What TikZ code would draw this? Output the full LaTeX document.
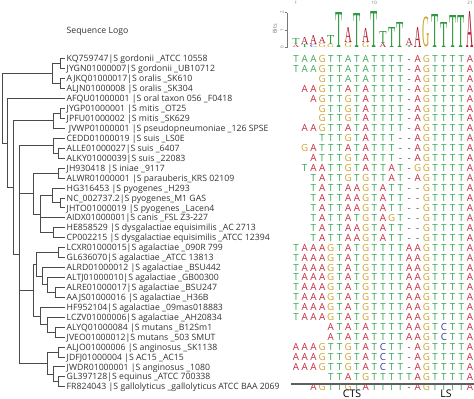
\documentclass[tikz,border=0pt]{standalone}
\usepackage{fontspec}
\setmainfont{Open Sans}
\newfontfamily\logofont{Liberation Serif}
\usepackage{graphicx}
\usetikzlibrary{calc}
\definecolor{alnT}{HTML}{38A856}
\definecolor{alnA}{HTML}{C8283C}
\definecolor{alnG}{HTML}{CDA532}
\definecolor{alnC}{HTML}{323CA0}
\definecolor{alndash}{HTML}{555555}
\definecolor{lgT}{HTML}{2E9A40}
\definecolor{lgA}{HTML}{B22234}
\definecolor{lgG}{HTML}{CFA020}
\definecolor{lgC}{HTML}{2B45A8}
\definecolor{treecol}{HTML}{4A4A4A}
\definecolor{lblcol}{HTML}{333333}
\definecolor{axcol}{HTML}{777777}
\newcounter{colc}
\newcommand\alnrow[2]{\setcounter{colc}{0}\def\currow{#1}\alnparse#2\relax}
\def\alnparse#1{\ifx#1\relax\else\stepcounter{colc}\alnchar#1\expandafter\alnparse\fi}
\newcommand\alnchar[1]{%
 \ifx#1.\else
  \ifx#1-\def\alnc{alndash}\def\alnt{-}\else
   \ifx#1a\def\alnc{alnT}\def\alnt{A}\else
    \def\alnc{aln#1}\def\alnt{#1}\fi\fi
  \node[alnl,text=\alnc] (r\currow c\thecolc) at ({296+(\thecolc-1)*8.7},{62.3+(\currow-1)*9.94}) {\alnt};%
 \fi}
\newcommand\tnode[4]{%
 \path let \p1=($(#3)!.5!(#4)$) in coordinate (#1) at (#2pt,\y1);
 \draw[tree] (#1) |- (#3) (#1) |- (#4);}
\newcommand\lgletter[4]{\node[lgl,text=lg#4] (lg#1#4) at ({296+(#1-1)*8.7},{47.5-#2}) {\resizebox*{7.2pt}{#3pt}{\logofont #4}};}
\tikzset{
 tree/.style={draw=treecol, line width=0.9pt},
 lbl/.style={anchor=base west, inner sep=0pt, text=lblcol, font=\fontsize{8.7}{10}\selectfont},
 alnl/.style={anchor=base, inner sep=0pt, font=\fontsize{9.8}{11}\selectfont},
 lgl/.style={anchor=south, inner sep=0pt},
 axl/.style={inner sep=0pt, text=axcol, font=\fontsize{4.5}{5}\selectfont},
 bot/.style={inner sep=0pt, anchor=base, text=black, font=\fontsize{10.5}{12}\selectfont},
}
\begin{document}
\begin{tikzpicture}[x=1pt,y=-1pt]
\useasboundingbox[fill=white] (0,0) rectangle (474,399);
% title
\node[lbl] (title) at (66.5,33) {Sequence Logo};
% leaf coordinates
\foreach \i in {1,...,34} {\coordinate (l\i) at (65,{58.8+(\i-1)*9.94});}
% labels
\node[lbl] (L1) at (66.5,{61.9+0*9.94}) {KQ759747|S gordonii \_ATCC 10558};
\node[lbl] (L2) at (66.5,{61.9+1*9.94}) {JYGN01000007|S gordonii \_UB10712};
\node[lbl] (L3) at (66.5,{61.9+2*9.94}) {AJKQ01000017|S oralis \_SK610};
\node[lbl] (L4) at (66.5,{61.9+3*9.94}) {ALJN01000008 |S oralis \_SK304};
\node[lbl] (L5) at (66.5,{61.9+4*9.94}) {AFQU01000001 |S oral taxon 056 \_F0418};
\node[lbl] (L6) at (66.5,{61.9+5*9.94}) {JYGP01000001 |S mitis \_OT25};
\node[lbl] (L7) at (66.5,{61.9+6*9.94}) {JPFU01000002 |S mitis \_SK629};
\node[lbl] (L8) at (66.5,{61.9+7*9.94}) {\ JVWP01000001 |S pseudopneumoniae \_126 SPSE};
\node[lbl] (L9) at (66.5,{61.9+8*9.94}) {CEDD01000019 |S suis \_LS0E};
\node[lbl] (L10) at (66.5,{61.9+9*9.94}) {ALLE01000027|S suis \_6407};
\node[lbl] (L11) at (66.5,{61.9+10*9.94}) {ALKY01000039|S suis \_22083};
\node[lbl] (L12) at (66.5,{61.9+11*9.94}) {JH930418 |S iniae \_9117};
\node[lbl] (L13) at (66.5,{61.9+12*9.94}) {ALWR01000001 |S parauberis\_KRS 02109};
\node[lbl] (L14) at (66.5,{61.9+13*9.94}) {HG316453 |S pyogenes \_H293};
\node[lbl] (L15) at (66.5,{61.9+14*9.94}) {NC\_002737.2|S pyogenes\_M1 GAS};
\node[lbl] (L16) at (66.5,{61.9+15*9.94}) {JHTO01000019 |S pyogenes \_Lacen4};
\node[lbl] (L17) at (66.5,{61.9+16*9.94}) {AIDX01000001|S canis \_FSL Z3-227};
\node[lbl] (L18) at (66.5,{61.9+17*9.94}) {HE858529 |S dysgalactiae equisimilis \_AC 2713};
\node[lbl] (L19) at (66.5,{61.9+18*9.94}) {CP002215 |S dysgalactiae equisimilis \_ATCC 12394};
\node[lbl] (L20) at (66.5,{61.9+19*9.94}) {LCXR01000015|S agalactiae \_090R 799};
\node[lbl] (L21) at (66.5,{61.9+20*9.94}) {GL636070|S agalactiae \_ATCC 13813};
\node[lbl] (L22) at (66.5,{61.9+21*9.94}) {ALRD01000012 |S agalactiae \_BSU442};
\node[lbl] (L23) at (66.5,{61.9+22*9.94}) {ALTJ01000010|S agalactiae \_GB00300};
\node[lbl] (L24) at (66.5,{61.9+23*9.94}) {ALRE01000017|S agalactiae \_BSU247};
\node[lbl] (L25) at (66.5,{61.9+24*9.94}) {AAJS01000016 |S agalactiae \_H36B};
\node[lbl] (L26) at (66.5,{61.9+25*9.94}) {HF952104|S agalactiae \_09mas018883};
\node[lbl] (L27) at (66.5,{61.9+26*9.94}) {LCZV01000006|S agalactiae \_AH20834};
\node[lbl] (L28) at (66.5,{61.9+27*9.94}) {ALYQ01000084 |S mutans \_B12Sm1};
\node[lbl] (L29) at (66.5,{61.9+28*9.94}) {JVEO01000012|S mutans \_503 SMUT};
\node[lbl] (L30) at (66.5,{61.9+29*9.94}) {ALJO01000006 |S anginosus \_SK1138};
\node[lbl] (L31) at (66.5,{61.9+30*9.94}) {JDFJ01000004 |S AC15 \_AC15};
\node[lbl] (L32) at (66.5,{61.9+31*9.94}) {JWDR01000001 |S anginosus \_1080};
\node[lbl] (L33) at (66.5,{61.9+32*9.94}) {GL397128|S equinus \_ATCC 700338};
\node[lbl] (L34) at (66.5,{61.9+33*9.94}) {FR824043 |S gallolyticus \_gallolyticus ATCC BAA 2069};
% tree
\tnode{a12}{60}{l1}{l2}
\tnode{a34}{60}{l3}{l4}
\tnode{A}{52}{a12}{a34}
\tnode{b67}{60}{l6}{l7}
\tnode{b678}{53}{b67}{l8}
\tnode{c1011}{58}{l10}{l11}
\tnode{Cs}{53}{l9}{c1011}
\tnode{c1213}{58}{l12}{l13}
\tnode{p1516}{60}{l15}{l16}
\tnode{p14}{52}{l14}{p1516}
\tnode{dys}{53}{l18}{l19}
\tnode{pyd}{40}{p14}{dys}
\draw[tree] (pyd) |- (l17);
\tnode{Cp}{33}{c1213}{pyd}
\tnode{d2021}{58}{l20}{l21}
\tnode{d2425}{55}{l24}{l25}
\tnode{d2325}{47}{l23}{d2425}
\tnode{d2225}{42}{l22}{d2325}
\tnode{d2025}{36}{d2021}{d2225}
\tnode{d2829}{55}{l28}{l29}
\tnode{d2729}{47}{l27}{d2829}
\tnode{d2629}{40}{l26}{d2729}
\tnode{D1}{33}{d2025}{d2629}
\tnode{d3031}{58}{l30}{l31}
\tnode{d3334}{58}{l33}{l34}
\tnode{d3234}{53}{l32}{d3334}
\tnode{D2}{47}{d3031}{d3234}
\tnode{N3}{19}{Cs}{D2}
\draw[tree] (N3) |- (Cp) (N3) |- (D1);
\tnode{N2}{13}{b678}{N3}
\tnode{N1}{7}{l5}{N2}
\tnode{R}{2}{A}{N1}
% alignment
\alnrow{1}{TaaGTTaTaTTTT-AGTTTTA}
\alnrow{2}{TaaGTTaTaTTTT-AGTTTTA}
\alnrow{3}{...GTTaTaTTTT-AGTTTTA}
\alnrow{4}{.AAGTTATATTTT-AGTTTTA}
\alnrow{5}{..AGTTGTATTTT-AGTTTTA}
\alnrow{6}{...GTTGTATTTT-AGTTTTA}
\alnrow{7}{...GTTGTATTTT-AGTTTTA}
\alnrow{8}{.AAGTTATATTTT-AGTTTTA}
\alnrow{9}{...TTTGTATTT--AGTTTTA}
\alnrow{10}{.GATTTATATTT--AGTTTTA}
\alnrow{11}{..ATTTGTATTT--AGTTTTA}
\alnrow{12}{.TAATTGTATTAT-GGTTTTA}
\alnrow{13}{..TATTGTGTTAT-AGTTTTA}
\alnrow{14}{..TATTAAGTATT--GTTTTA}
\alnrow{15}{..TATTAAGTATT--GTTTTA}
\alnrow{16}{..TATTAAGTATT--GTTTTA}
\alnrow{17}{..TATTATGTAGT--GTTTTA}
\alnrow{18}{..TATTAAGTATT--GTTTTA}
\alnrow{19}{..TATTAAGTATT--GTTTTA}
\alnrow{20}{TAAAGTATGTTTTAAGTTTTA}
\alnrow{21}{TAAAGTATGTTTTAAGTTTTA}
\alnrow{22}{TAAAGTATGTTTTAAGTTTTA}
\alnrow{23}{TAAAGTATGTTTTAAGTTTTA}
\alnrow{24}{TAAAGTATGTTTTAAGTTTTA}
\alnrow{25}{TAAAGTATGTTTTAAGTTTTA}
\alnrow{26}{TAAAGTATGTTTTAAGTTTTA}
\alnrow{27}{TAAAGTATGTTTTAAGTTTTA}
\alnrow{28}{....ATATATTTTAAGTCTTA}
\alnrow{29}{....ATATATTTTAAGTCTTA}
\alnrow{30}{AAAGTTGTATCTT-AGTTTTA}
\alnrow{31}{AAAGTTGTATCTT-AGTTTTA}
\alnrow{32}{AAAGTTGTATCTT-AGTTTTA}
\alnrow{33}{....TTATGTTTTTAGTTTTA}
\alnrow{34}{..AGTTGTATTTT-AGTTTTA}
% bottom line and region labels
\coordinate (bl) at (291,384);
\coordinate (br) at (474,384);
\draw[draw=axcol!80!black, line width=1.1pt] (bl) -- (br);
\node[bot] (cts) at (352,397) {CTS};
\node[bot] (ls) at (446,397) {LS};
% logo axis
\coordinate (ax0) at (287,47.5);
\coordinate (ax2) at (287,12.5);
\draw[draw=axcol, line width=0.6pt] (ax0) -- (ax2);
\foreach \v/\yy in {0/47.5,1/30,2/12.5} {
  \coordinate (tk\v) at (284.5,\yy);
  \draw[draw=axcol, line width=0.5pt] (tk\v) -- (287,\yy);
  \node[axl, rotate=90] (tl\v) at (282,\yy) {\v};
}
\node[axl, rotate=90, font=\fontsize{5.5}{6}\selectfont] (bits) at (275,29) {Bits};
\node[axl] (n1) at (296,3) {1};
\node[axl] (n10) at (374.3,3) {10};
\node[axl] (n21) at (470,3) {21};
% logo letters: col, bottom offset, height, letter
\lgletter{1}{0}{2.5}{A}\lgletter{1}{2.5}{6}{T}
\lgletter{2}{0}{3}{T}\lgletter{2}{3}{7}{A}
\lgletter{3}{0}{3}{C}\lgletter{3}{3}{9}{A}
\lgletter{4}{0}{4}{G}\lgletter{4}{4}{6}{A}
\lgletter{5}{0}{3}{G}\lgletter{5}{3}{9}{T}
\lgletter{6}{0}{35}{T}
\lgletter{7}{0}{5}{G}\lgletter{7}{5}{15}{A}
\lgletter{8}{0}{34}{T}
\lgletter{9}{0}{5}{G}\lgletter{9}{5}{14}{A}
\lgletter{10}{0}{36}{T}
\lgletter{11}{0}{4}{A}\lgletter{11}{4}{12}{T}
\lgletter{12}{0}{20}{T}
\lgletter{13}{0}{25}{T}
\lgletter{14}{0}{2}{T}\lgletter{14}{2}{7}{A}
\lgletter{15}{0}{20}{A}
\lgletter{16}{0}{30}{G}
\lgletter{17}{0}{33}{T}
\lgletter{18}{0}{25}{T}
\lgletter{19}{0}{32}{T}
\lgletter{20}{0}{32}{T}
\lgletter{21}{0}{36}{A}
\end{tikzpicture}
\end{document}
